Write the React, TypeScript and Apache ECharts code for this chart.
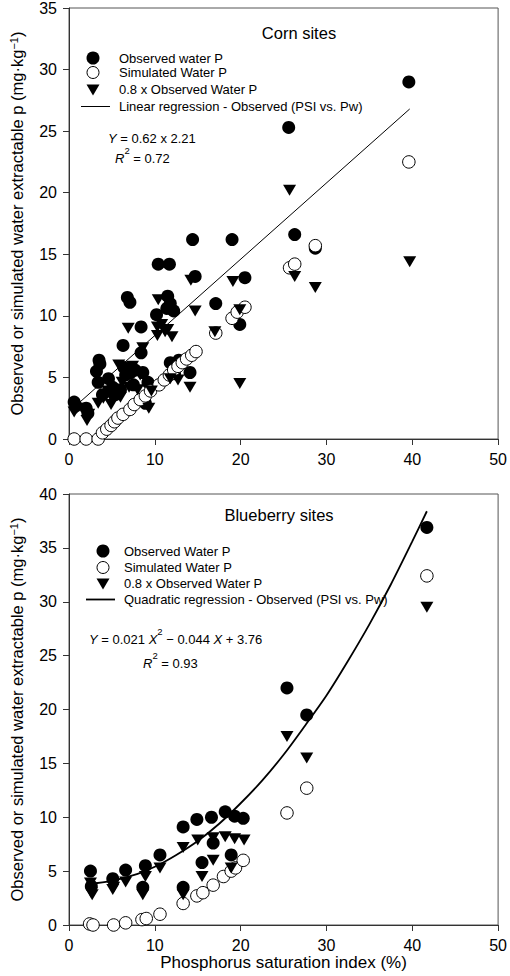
import React, { useEffect, useRef } from "react";
import * as echarts from "echarts";

const FONT = '"Liberation Sans", Arial, Helvetica, sans-serif';

// ---------- Corn sites (PSI %, water P mg/kg) ----------
const cornObserved: number[][] = [
  [0.6, 3.0], [0.8, 2.7], [2.0, 2.5], [2.2, 2.1], [3.2, 5.5], [3.5, 6.4], [3.6, 6.1],
  [3.4, 4.6], [3.9, 3.6], [4.6, 4.9], [5.1, 4.2], [5.4, 3.6], [6.0, 4.0], [6.3, 7.6], [6.4, 5.8],
  [6.6, 5.2], [6.8, 11.5], [7.1, 11.1], [7.2, 5.4], [7.7, 5.6], [7.5, 4.4], [8.4, 9.1], [8.4, 7.0],
  [8.6, 5.4], [8.9, 2.9], [9.2, 4.6], [10.2, 10.1], [10.4, 14.2], [11.7, 14.2], [11.5, 11.6],
  [11.8, 11.0], [12.2, 10.4], [11.4, 10.6], [11.8, 6.2], [12.8, 6.4], [12.3, 5.3], [14.1, 5.4],
  [14.4, 16.2], [14.7, 13.2], [17.1, 11.0], [19.0, 16.2], [19.9, 9.3], [20.5, 13.1],
  [25.6, 25.3], [26.3, 16.6], [28.7, 15.5], [39.6, 29.0],
];
const cornSimulated: number[][] = [
  [0.6, 0], [2.0, 0], [3.4, 0], [3.9, 0.5], [4.4, 0.8], [4.9, 1.1], [5.3, 1.4], [5.7, 1.7],
  [6.3, 2.0], [7.1, 2.4], [7.6, 2.8], [8.3, 3.2], [8.9, 3.5], [9.5, 3.9], [10.5, 4.4],
  [11.1, 4.8], [11.7, 5.2], [12.2, 5.6], [12.7, 5.9], [13.2, 6.2], [13.7, 6.5], [14.3, 6.8],
  [14.8, 7.1], [17.1, 8.6], [19.0, 9.8], [19.6, 10.3], [20.5, 10.7], [25.7, 13.9],
  [26.3, 14.2], [28.7, 15.7], [39.6, 22.5],
];
const cornScaled: number[][] = [
  [0.6, 2.2], [0.9, 2.5], [2.1, 1.5], [2.3, 2.0], [3.4, 2.9], [3.7, 4.5], [4.0, 3.3],
  [4.5, 3.9], [4.9, 2.8], [5.1, 3.2], [5.8, 6.0], [6.0, 3.4], [6.2, 4.6], [6.9, 9.0],
  [7.0, 4.2], [7.4, 5.9], [8.0, 4.0], [8.3, 5.2], [8.6, 7.4], [9.3, 2.5], [9.6, 3.9],
  [10.3, 9.1], [10.4, 11.3], [10.3, 8.4], [10.8, 9.3], [11.2, 8.7], [11.5, 8.9], [12.0, 8.3],
  [11.8, 4.9], [12.7, 4.8], [14.1, 4.2], [14.2, 12.9], [14.7, 10.4], [17.0, 8.7], [19.1, 12.8],
  [19.9, 10.5], [19.9, 4.5], [25.7, 20.2], [26.3, 13.2], [28.7, 12.3], [39.7, 14.4],
];
const cornRegression: number[][] = [[1.0, 2.83], [39.7, 26.8]];

// ---------- Blueberry sites ----------
const blueObserved: number[][] = [
  [2.5, 5.0], [2.6, 3.6], [5.1, 4.3], [6.6, 5.1], [8.6, 3.5], [8.9, 5.5], [10.6, 6.5],
  [13.3, 9.1], [13.3, 3.5], [14.9, 9.8], [15.5, 5.8], [16.6, 10.0], [16.8, 7.6], [18.2, 10.5],
  [18.9, 6.5], [19.3, 10.1], [20.3, 9.9], [25.4, 22.0], [27.7, 19.5], [41.7, 36.9],
];
const blueSimulated: number[][] = [
  [2.4, 0.1], [2.8, 0.0], [5.2, 0.0], [6.6, 0.2], [8.5, 0.5], [9.0, 0.6], [10.6, 1.0],
  [13.3, 2.0], [14.9, 2.7], [15.6, 3.0], [16.8, 3.7], [18.0, 4.5], [18.9, 5.0], [19.4, 5.3],
  [20.3, 6.0], [25.4, 10.4], [27.7, 12.7], [41.7, 32.4],
];
const blueScaled: number[][] = [
  [2.5, 3.9], [2.6, 3.0], [2.7, 2.8], [5.1, 3.3], [5.2, 3.5], [6.6, 4.0], [8.6, 2.8],
  [8.9, 4.5], [10.6, 5.3], [13.3, 7.2], [13.3, 2.8], [15.0, 7.9], [15.5, 4.5], [16.8, 8.1],
  [16.8, 6.0], [18.2, 8.2], [18.9, 5.3], [19.3, 8.0], [20.4, 7.9], [25.4, 17.5], [27.7, 15.5],
  [41.7, 29.5],
];
const blueRegression: number[][] = [
  [2.2, 3.8], [5, 4.1], [8, 4.75], [10, 5.4], [12.5, 6.5], [15, 7.8], [17.5, 9.4], [20, 11.3],
  [22.5, 13.4], [25, 15.8], [27.5, 18.5], [30, 21.3], [32.5, 24.5], [35, 27.9], [37.5, 31.6],
  [40, 35.6], [41.7, 38.4],
];

// ---------- axes ----------
const xMin = 0, xMax = 50, xStep = 10;
const cornYMax = 35, blueYMax = 40, yStep = 5;

const legendCorn = ["Observed water P", "Simulated Water P", "0.8 x Observed Water P", "Linear regression - Observed (PSI vs. Pw)"];
const legendBlue = ["Observed Water P", "Simulated Water P", "0.8 x Observed Water P", "Quadratic regression - Observed (PSI vs. Pw)"];

const LF = 13;
const richBase = {
  i: { fontStyle: "italic", fontSize: LF, fontFamily: FONT, fill: "#000", color: "#000", lineHeight: 20, verticalAlign: "bottom" },
  n: { fontSize: LF, fontFamily: FONT, fill: "#000", color: "#000", lineHeight: 20, verticalAlign: "bottom" },
  sup: { fontSize: 9.5, fontFamily: FONT, fill: "#000", color: "#000", verticalAlign: "top", lineHeight: 8 },
};

function txt(x: number, y: number, text: string, size = LF, align = "left", rich?: any) {
  return {
    type: "text",
    x,
    y,
    silent: true,
    style: {
      text,
      fill: "#000",
      fontSize: size,
      fontFamily: FONT,
      align,
      verticalAlign: "middle",
      textAlign: align,
      textVerticalAlign: "middle",
      rich,
    },
  };
}

function legend(sx: number, tx: number, rows: number[], labels: string[], lx0: number, lx1: number, lw: number) {
  return [
    { type: "circle", shape: { cx: sx, cy: rows[0], r: 6.5 }, style: { fill: "#000" }, silent: true },
    { type: "circle", shape: { cx: sx, cy: rows[1], r: 6 }, style: { fill: "#fff", stroke: "#000", lineWidth: 1 }, silent: true },
    {
      type: "polygon",
      shape: { points: [[sx - 6.5, rows[2] - 5], [sx + 6.5, rows[2] - 5], [sx, rows[2] + 6]] },
      style: { fill: "#000" },
      silent: true,
    },
    { type: "line", shape: { x1: lx0, y1: rows[3], x2: lx1, y2: rows[3] }, style: { stroke: "#000", lineWidth: lw }, silent: true },
    ...labels.map((l, k) => txt(tx, rows[k], l)),
  ];
}

export default function App() {
  const ref = useRef<HTMLDivElement>(null);
  useEffect(() => {
    if (!ref.current) return;
    const chart = echarts.init(ref.current, undefined, { renderer: "svg" });

    const axisCommon = {
      type: "value",
      axisLine: { show: true, onZero: false, lineStyle: { color: "#333", width: 1 } },
      axisTick: { show: true, inside: false, length: 6, lineStyle: { color: "#333" } },
      axisLabel: { fontSize: 16, color: "#000", fontFamily: FONT, margin: 12 },
      splitLine: { show: false },
    };
    const yName = "Observed or simulated water extractable p (mg·kg{sup|−1})";
    const yNameStyle = {
      fontSize: 16.5,
      fontFamily: FONT,
      color: "#000",
      rich: {
        sup: { fontSize: 11, fontFamily: FONT, color: "#000", verticalAlign: "top", lineHeight: 10 },
      },
    };

    const scat = (name: string, data: number[][], idx: number, kind: string) => {
      const base: any = {
        name,
        type: "scatter",
        xAxisIndex: idx,
        yAxisIndex: idx,
        data,
        silent: true,
      };
      if (kind === "filled") {
        base.symbol = "circle";
        base.symbolSize = 13;
        base.itemStyle = { color: "#000", opacity: 1 };
      } else if (kind === "open") {
        base.symbol = "circle";
        base.symbolSize = 12.5;
        base.itemStyle = { color: "#fff", borderColor: "#000", borderWidth: 1, opacity: 1 };
      } else {
        base.symbol = "triangle";
        base.symbolSize = [13, 11];
        base.symbolRotate = 180;
        base.itemStyle = { color: "#000", opacity: 1 };
      }
      return base;
    };

    const option: any = {
      animation: false,
      backgroundColor: "#fff",
      textStyle: { fontFamily: FONT },
      grid: [
        { left: 68, top: 8, width: 432, height: 431, show: true, borderColor: "#555", borderWidth: 1, backgroundColor: "transparent" },
        { left: 68, top: 494, width: 432, height: 431, show: true, borderColor: "#555", borderWidth: 1, backgroundColor: "transparent" },
      ],
      xAxis: [
        { ...axisCommon, gridIndex: 0, min: xMin, max: xMax, interval: xStep },
        {
          ...axisCommon,
          gridIndex: 1,
          min: xMin,
          max: xMax,
          interval: xStep,
          name: "Phosphorus saturation index (%)",
          nameLocation: "middle",
          nameGap: 28,
          nameTextStyle: { fontSize: 17, fontFamily: FONT, color: "#000" },
        },
      ],
      yAxis: [
        {
          ...axisCommon,
          gridIndex: 0,
          min: 0,
          max: cornYMax,
          interval: yStep,
          name: yName,
          nameLocation: "middle",
          nameGap: 44,
          nameTextStyle: yNameStyle,
        },
        {
          ...axisCommon,
          gridIndex: 1,
          min: 0,
          max: blueYMax,
          interval: yStep,
          name: yName,
          nameLocation: "middle",
          nameGap: 44,
          nameTextStyle: yNameStyle,
        },
      ],
      series: [
        scat(legendCorn[0], cornObserved, 0, "filled"),
        scat(legendCorn[1], cornSimulated, 0, "open"),
        scat(legendCorn[2], cornScaled, 0, "tri"),
        {
          name: legendCorn[3],
          type: "line",
          xAxisIndex: 0,
          yAxisIndex: 0,
          data: cornRegression,
          symbol: "none",
          silent: true,
          lineStyle: { color: "#000", width: 1 },
        },
        scat(legendBlue[0], blueObserved, 1, "filled"),
        scat(legendBlue[1], blueSimulated, 1, "open"),
        scat(legendBlue[2], blueScaled, 1, "tri"),
        {
          name: legendBlue[3],
          type: "line",
          xAxisIndex: 1,
          yAxisIndex: 1,
          data: blueRegression,
          symbol: "none",
          smooth: 0.3,
          silent: true,
          lineStyle: { color: "#000", width: 1.8 },
        },
      ],
      graphic: {
        elements: [
          txt(299, 33, "Corn sites", 16.5, "center"),
          ...legend(93, 119, [58, 72.5, 89.5, 106.5], legendCorn, 81, 110, 1),
          txt(108, 135, "{i|Y}{n| = 0.62 x 2.21}", LF, "left", richBase),
          txt(115, 155, "{i|R}{sup|2}{n| = 0.72}", LF, "left", richBase),
          txt(279, 515, "Blueberry sites", 16.5, "center"),
          ...legend(103, 124, [551, 567.5, 583.5, 599.5], legendBlue, 86, 115, 1.8),
          txt(89, 636, "{i|Y}{n| = 0.021 }{i|X}{sup|2}{n| − 0.044 }{i|X}{n| + 3.76}", LF, "left", richBase),
          txt(143, 660, "{i|R}{sup|2}{n| = 0.93}", LF, "left", richBase),
        ],
      },
    };
    chart.setOption(option);
    return () => chart.dispose();
  }, []);

  return (
    <div
      ref={ref}
      style={{ position: "absolute", left: 0, top: 0, width: 510, height: 976, background: "#fff" }}
    />
  );
}
